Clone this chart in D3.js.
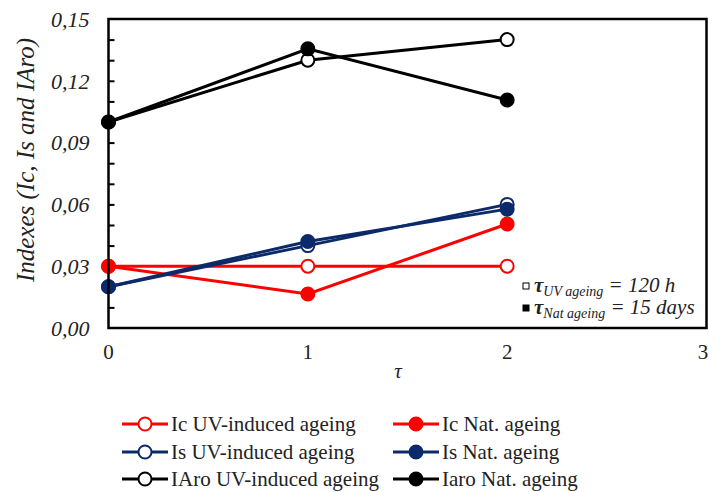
<!DOCTYPE html>
<html><head><meta charset="utf-8">
<script src="https://cdn.jsdelivr.net/npm/d3@7"></script>
<style>
body{margin:0;background:#fff;}
svg{display:block;}
</style></head>
<body>
<script>
const xValues = [0, 1, 2];
const xTicks = [0, 1, 2, 3];
const yTicks = [0, 0.03, 0.06, 0.09, 0.12, 0.15];
const yMinorTicks = [0.01,0.02,0.03,0.04,0.05,0.06,0.07,0.08,0.09,0.10,0.11,0.12,0.13,0.14];
const seriesNames = ["Ic UV-induced ageing","Ic Nat. ageing","Is UV-induced ageing","Is Nat. ageing","IAro UV-induced ageing","Iaro Nat. ageing"];
const icUV = [0.030, 0.030, 0.030];
const icNat = [0.030, 0.0165, 0.0505];
const isUV = [0.020, 0.040, 0.060];
const isNat = [0.020, 0.042, 0.0577];
const iaroUV = [0.100, 0.130, 0.140];
const iaroNat = [0.100, 0.1355, 0.1107];
const seriesColors = ["#ff0000","#ff0000","#0c2a6a","#0c2a6a","#000000","#000000"];
const seriesFilled = [false,true,false,true,false,true];
const seriesValues = [icUV, icNat, isUV, isNat, iaroUV, iaroNat];

const W = 709, H = 492;
const FONT = "'Liberation Serif', 'Times New Roman', 'DejaVu Serif', serif";
const svg = d3.select("body").append("svg").attr("width", W).attr("height", H)
  .attr("font-family", FONT);
const L = 108.5, R = 706.5, T = 19, B = 328;
const x = d3.scaleLinear().domain([0,3]).range([L,R]);
const y = d3.scaleLinear().domain([0,0.15]).range([B,T]);

// y ticks inward
svg.append("g").attr("transform",`translate(${L},0)`)
  .call(d3.axisRight(y).tickValues(yMinorTicks).tickSize(6).tickFormat(""))
  .call(g=>g.select(".domain").remove())
  .call(g=>g.selectAll("line").attr("stroke","#000").attr("stroke-width",2));

// y labels
svg.append("g").selectAll("text").data(yTicks).join("text")
  .attr("x", L-19).attr("y", d=>y(d)).attr("dy","0.35em")
  .attr("text-anchor","end").attr("font-style","italic").attr("font-size",22)
  .attr("font-family", FONT).attr("fill","#222")
  .text(d=>d3.format(".2f")(d).replace(".",","));

// x labels
svg.append("g").selectAll("text").data(xTicks).join("text")
  .attr("x", d=>Math.min(x(d), 703)).attr("y", 352).attr("dy","0.35em")
  .attr("text-anchor","middle").attr("font-size",21).attr("fill","#222")
  .attr("font-family", FONT)
  .text(d=>d);

svg.append("text").attr("x", 398).attr("y", 378).attr("text-anchor","middle")
  .attr("font-family", FONT)
  .attr("font-style","italic").attr("font-size",21).attr("fill","#222").text("τ");

svg.append("text").attr("transform",`translate(34,160) rotate(-90)`)
  .attr("font-family", FONT)
  .attr("text-anchor","middle").attr("font-style","italic").attr("font-size",25)
  .attr("fill","#222").text("Indexes (Ic, Is and IAro)");

const line = d3.line().x((d,i)=>x(xValues[i])).y(d=>y(d));
seriesValues.forEach((vals,k)=>{
  const g = svg.append("g");
  g.append("path").attr("d", line(vals)).attr("fill","none")
    .attr("stroke", seriesColors[k]).attr("stroke-width",3);
  g.selectAll("circle").data(vals).join("circle")
    .attr("cx",(d,i)=>x(xValues[i])).attr("cy",d=>y(d)).attr("r",6.5)
    .attr("fill", seriesFilled[k]?seriesColors[k]:"#fff")
    .attr("stroke", seriesColors[k]).attr("stroke-width",2);
});

// frame
svg.append("rect").attr("x",L).attr("y",T).attr("width",R-L).attr("height",B-T)
  .attr("fill","none").attr("stroke","#000").attr("stroke-width",2.5);

// annotation
const ann = [{sq:false, sub:"UV ageing", rest:" = 120 h", yy:292},
             {sq:true, sub:"Nat  ageing", rest:" = 15 days", yy:314}];
ann.forEach(a=>{
  svg.append("rect").attr("x",523).attr("y",a.yy-9).attr("width",6).attr("height",6)
    .attr("fill",a.sq?"#000":"#fff").attr("stroke","#000").attr("stroke-width",1);
  const t = svg.append("text").attr("x",534).attr("y",a.yy).attr("font-size",21)
    .attr("font-family", FONT).attr("fill","#222");
  t.append("tspan").attr("font-weight","bold").attr("font-style","italic").text("τ");
  t.append("tspan").attr("font-style","italic").attr("font-size",14).attr("dy",4).text(a.sub);
  t.append("tspan").attr("font-style","italic").attr("dy",-4).text(a.rest);
});

// legend
const legX = [122, 393], legY = [424, 452, 479];
seriesNames.forEach((name,k)=>{
  const col = k%2, row = Math.floor(k/2);
  const lx = legX[col], ly = legY[row];
  const g = svg.append("g");
  g.append("line").attr("x1",lx).attr("x2",lx+46).attr("y1",ly).attr("y2",ly)
    .attr("stroke",seriesColors[k]).attr("stroke-width",3);
  g.append("circle").attr("cx",lx+23).attr("cy",ly).attr("r",6.5)
    .attr("fill", seriesFilled[k]?seriesColors[k]:"#fff")
    .attr("stroke",seriesColors[k]).attr("stroke-width",2);
  g.append("text").attr("x",lx+49).attr("y",ly).attr("dy","0.35em")
    .attr("font-family", FONT)
    .attr("font-size",21).attr("fill","#222").text(name);
});
</script>
</body></html>
